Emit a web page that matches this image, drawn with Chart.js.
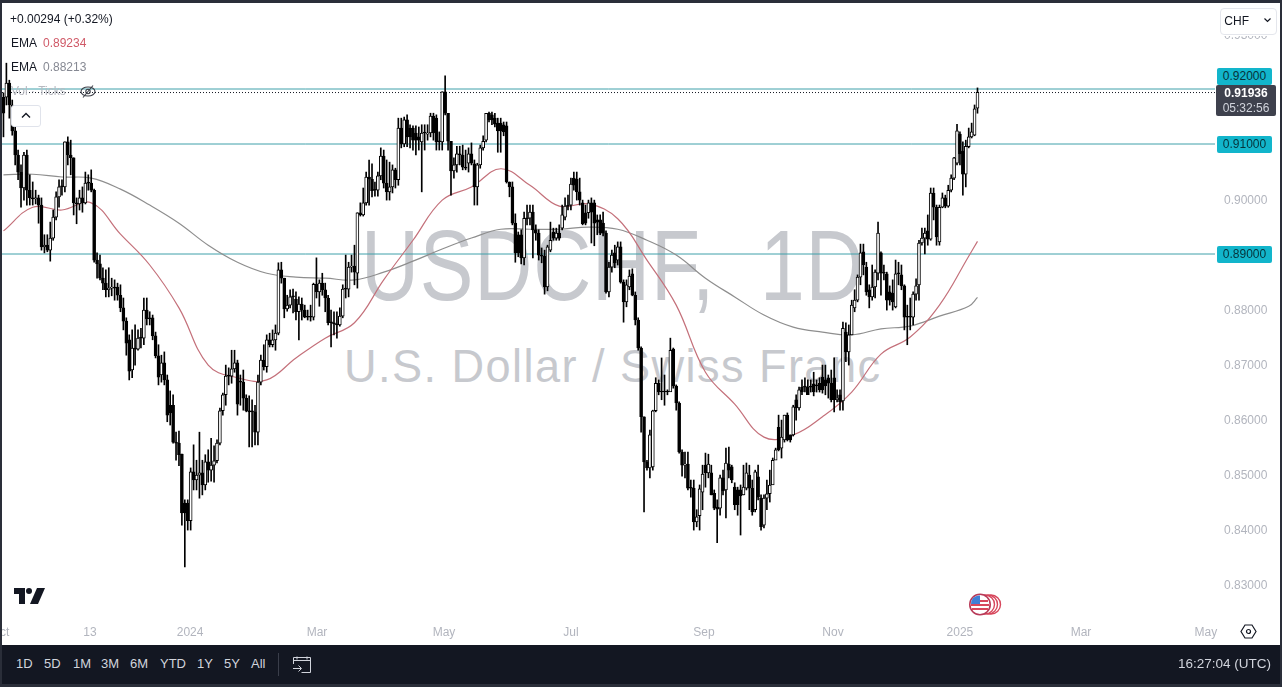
<!DOCTYPE html>
<html>
<head>
<meta charset="utf-8">
<title>USDCHF 1D</title>
<script src="https://cdn.jsdelivr.net/npm/chart.js@4"></script>
<style>
  html, body { margin: 0; padding: 0; width: 1282px; height: 687px; overflow: hidden; background: #2a2e39; font-family: "Liberation Sans", sans-serif; }
  #paper { position: absolute; left: 2px; top: 3px; width: 1278px; height: 642px; background: #fff; }
  #chart { position: absolute; left: 0; top: 0; z-index: 2; }
  .mark { position: absolute; z-index: 1; color: #c7c9ce; white-space: nowrap; transform-origin: left top; }
  .ui { position: absolute; z-index: 3; white-space: nowrap; font-size: 12px; line-height: 16px; color: #131722; }
  .edge { position: absolute; z-index: 3; background: #2a2e39; }
  .tag { position: absolute; z-index: 3; left: 1217px; width: 55px; height: 17px; line-height: 17px; text-align: center; font-size: 12px; background: #12b5cb; color: #06323a; border-radius: 2px; }
  #bar { position: absolute; z-index: 4; left: 2px; top: 645px; width: 1278px; height: 39px; background: #131722; color: #d1d4dc; font-size: 13px; }
  #bar span { position: absolute; top: 11px; line-height: 16px; }
</style>
</head>
<body>
<div id="paper"></div>
<div class="mark" style="left:361px;top:205px;font-size:100px;line-height:120px;letter-spacing:1px;word-spacing:27px;transform:scaleX(0.804);">USDCHF, 1D</div>
<div class="mark" style="left:344px;top:336px;font-size:47px;line-height:60px;letter-spacing:1.5px;transform:scaleX(0.96);">U.S. Dollar / Swiss Franc</div>
<canvas id="chart" width="1282" height="645"></canvas>

<div class="edge" style="left:0;top:0;width:2px;height:687px;"></div>
<div class="edge" style="left:1280px;top:0;width:2px;height:687px;"></div>
<div class="edge" style="left:0;top:0;width:1282px;height:3px;"></div>
<div class="edge" style="left:0;top:684px;width:1282px;height:3px;"></div>

<div class="ui" style="left:10px;top:11px;">+0.00294 (+0.32%)</div>
<div class="ui" style="left:11px;top:35px;">EMA</div><div class="ui" style="left:43px;top:35px;color:#d05a68;">0.89234</div>
<div class="ui" style="left:11px;top:59px;">EMA</div><div class="ui" style="left:43px;top:59px;color:#868993;">0.88213</div>
<div class="ui" style="left:11px;top:83px;color:#b7b9c0;">Vol · Ticks</div>
<svg class="ui" style="left:80px;top:84px;" width="16" height="15" viewBox="0 0 16 15" fill="none" stroke="#3a3d46" stroke-width="1.1"><ellipse cx="8" cy="7.5" rx="7" ry="4.5"/><circle cx="8" cy="7.5" r="2.2"/><path d="M13 1.5 3 13.5"/></svg>
<div class="ui" style="left:11px;top:105px;width:28px;height:20px;border:1px solid #e0e3eb;border-radius:3px;background:#fff;"></div>
<svg class="ui" style="left:20px;top:111px;" width="12" height="9" viewBox="0 0 12 9" fill="none" stroke="#131722" stroke-width="1.4"><path d="M2 6.5 6 2.5 10 6.5"/></svg>

<div class="ui" style="left:1218px;top:30px;width:60px;height:6px;background:#fff;"></div>
<div class="ui" style="left:1220px;top:8px;width:55px;height:25px;border:1px solid #e4e6ec;border-radius:4px;background:#fff;line-height:24px;">&nbsp;CHF</div>
<svg class="ui" style="left:1263px;top:17px;" width="9" height="7" viewBox="0 0 9 7" fill="none" stroke="#131722" stroke-width="1.2"><path d="M1.5 1.5 4.5 4.5 7.5 1.5"/></svg>

<div class="tag" style="top:68px;">0.92000</div>
<div class="tag" style="top:136px;">0.91000</div>
<div class="tag" style="top:246px;">0.89000</div>
<div class="ui" style="left:1216px;top:85px;width:60px;height:31px;background:#3e414d;border-radius:2px;text-align:center;line-height:15px;color:#fff;"><b style="display:block;padding-top:1px;">0.91936</b><span style="color:#d1d4dc;">05:32:56</span></div>

<svg class="ui" style="left:14px;top:588px;" width="31" height="16" viewBox="0 0 31 16" fill="#131722"><path d="M0 0h11v16H5V6H0z"/><circle cx="15" cy="3" r="3"/><path d="M23 0h8l-7 16h-8z"/></svg>

<svg class="ui" style="left:967px;top:593px;" width="36" height="23" viewBox="0 0 36 23">
  <circle cx="24" cy="11.5" r="9.5" fill="#fff" stroke="#d7475c" stroke-width="1.4"/>
  <circle cx="21" cy="11.5" r="9.5" fill="#fff" stroke="#d7475c" stroke-width="1.4"/>
  <circle cx="18" cy="11.5" r="9.5" fill="#fff" stroke="#d7475c" stroke-width="1.4"/>
  <circle cx="13" cy="11.5" r="10.2" fill="#fff" stroke="#b83a58" stroke-width="1.6"/>
  <path d="M5 7h16v2H5zM4 11h18v2H4zM5 15h16v2H5z" fill="#d7475c"/>
  <path d="M6 5a9 9 0 0 1 7-2.5V11H4a9 9 0 0 1 2-6z" fill="#3f7fd6"/>
</svg>

<svg class="ui" style="left:1240px;top:623px;" width="17" height="17" viewBox="0 0 17 17" fill="none" stroke="#131722" stroke-width="1.2"><path d="M5 2h7l4 6.5-4 6.5H5L1 8.5z"/><circle cx="8.5" cy="8.5" r="2"/></svg>

<div id="bar">
  <span style="left:14px;">1D</span><span style="left:42px;">5D</span><span style="left:71px;">1M</span><span style="left:99px;">3M</span><span style="left:128px;">6M</span><span style="left:158px;">YTD</span><span style="left:195px;">1Y</span><span style="left:222px;">5Y</span><span style="left:249px;">All</span>
  <i style="position:absolute;left:276px;top:8px;width:1px;height:23px;background:#3a3e4a;"></i>
  <svg style="position:absolute;left:290px;top:9px;" width="20" height="20" viewBox="0 0 20 20" fill="none" stroke="#d1d4dc" stroke-width="1"><path d="M1 6.5h18M5 2.5v3M15 2.5v3M1.5 10V3.5h17v15h-9M1 14.5h8M6.5 11.5l3 3-3 3"/></svg>
  <span style="left:1176px;font-size:13.5px;">16:27:04 (UTC)</span>
</div>

<script>
// USD/CHF daily candles, oldest first
const opens = [0.9185,0.9185,0.9211,0.9171,0.9124,0.9080,0.9049,0.9020,0.9080,0.9016,
0.9002,0.9000,0.9002,0.8989,0.8913,0.8916,0.8907,0.8929,0.8967,0.9004,
0.9022,0.9022,0.9104,0.9080,0.9075,0.8993,0.8991,0.9002,0.8993,0.9029,
0.9029,0.9016,0.8889,0.8882,0.8856,0.8847,0.8835,0.8838,0.8840,0.8840,
0.8825,0.8802,0.8778,0.8744,0.8689,0.8729,0.8727,0.8747,0.8747,0.8798,
0.8782,0.8784,0.8751,0.8715,0.8680,0.8702,0.8671,0.8625,0.8625,0.8558,
0.8556,0.8536,0.8447,0.8447,0.8415,0.8504,0.8489,0.8498,0.8502,0.8480,
0.8522,0.8507,0.8516,0.8524,0.8556,0.8615,0.8644,0.8678,0.8678,0.8691,
0.8702,0.8667,0.8667,0.8638,0.8615,0.8613,0.8613,0.8576,0.8667,0.8707,
0.8695,0.8744,0.8735,0.8744,0.8756,0.8871,0.8856,0.8800,0.8807,0.8822,
0.8818,0.8795,0.8809,0.8798,0.8785,0.8785,0.8785,0.8845,0.8831,0.8847,
0.8835,0.8820,0.8775,0.8775,0.8773,0.8771,0.8787,0.8836,0.8836,0.8876,
0.8878,0.8865,0.8975,0.8971,0.8993,0.9040,0.9036,0.9016,0.9016,0.9042,
0.9078,0.9029,0.9013,0.9022,0.9053,0.9035,0.9129,0.9100,0.9144,0.9129,
0.9129,0.9120,0.9113,0.9104,0.9120,0.9118,0.9120,0.9151,0.9147,0.9104,
0.9104,0.9195,0.9156,0.9105,0.9051,0.9062,0.9082,0.9080,0.9058,0.9065,
0.9082,0.9064,0.9022,0.9062,0.9093,0.9107,0.9156,0.9153,0.9147,0.9138,
0.9138,0.9135,0.9133,0.9031,0.9022,0.8956,0.8935,0.8935,0.8893,0.8965,
0.8965,0.8976,0.8944,0.8938,0.8896,0.8896,0.8840,0.8907,0.8940,0.8929,
0.8938,0.8947,0.8967,0.8987,0.8989,0.9038,0.9036,0.9013,0.8993,0.8975,
0.8975,0.8993,0.8993,0.8962,0.8962,0.8956,0.8938,0.8831,0.8876,0.8902,
0.8889,0.8913,0.8849,0.8813,0.8840,0.8864,0.8825,0.8780,0.8729,0.8604,
0.8522,0.8511,0.8513,0.8615,0.8665,0.8649,0.8649,0.8649,0.8649,0.8727,
0.8660,0.8629,0.8540,0.8516,0.8518,0.8474,0.8474,0.8413,0.8424,0.8467,
0.8516,0.8502,0.8502,0.8465,0.8440,0.8438,0.8493,0.8471,0.8518,0.8513,
0.8476,0.8471,0.8471,0.8462,0.8474,0.8498,0.8474,0.8435,0.8495,0.8456,
0.8407,0.8456,0.8464,0.8480,0.8525,0.8585,0.8547,0.8562,0.8607,0.8571,
0.8571,0.8635,0.8620,0.8658,0.8658,0.8658,0.8658,0.8664,0.8662,0.8665,
0.8676,0.8671,0.8675,0.8665,0.8675,0.8635,0.8644,0.8633,0.8758,0.8722,
0.8753,0.8802,0.8816,0.8858,0.8904,0.8876,0.8835,0.8822,0.8840,0.8865,
0.8902,0.8865,0.8864,0.8831,0.8829,0.8804,0.8864,0.8862,0.8842,0.8785,
0.8785,0.8785,0.8827,0.8844,0.8920,0.8929,0.8942,0.8927,0.9011,0.8985,
0.8922,0.8985,0.9002,0.8987,0.9016,0.9038,0.9065,0.9118,0.9087,0.9045,
0.9095,0.9113,0.9116,0.9165];
const closes = [0.9156,0.9211,0.9171,0.9124,0.9080,0.9049,0.9020,0.9080,0.9016,0.9002,
0.9000,0.9002,0.8989,0.8913,0.8916,0.8907,0.8929,0.8967,0.9004,0.9022,
0.9022,0.9104,0.9080,0.9075,0.8993,0.8991,0.9002,0.8993,0.9029,0.9029,
0.9016,0.8889,0.8882,0.8856,0.8847,0.8835,0.8838,0.8840,0.8838,0.8825,
0.8802,0.8778,0.8738,0.8687,0.8729,0.8727,0.8747,0.8747,0.8798,0.8782,
0.8782,0.8751,0.8715,0.8676,0.8702,0.8671,0.8607,0.8611,0.8558,0.8556,
0.8535,0.8429,0.8429,0.8415,0.8504,0.8489,0.8498,0.8502,0.8480,0.8522,
0.8507,0.8516,0.8524,0.8556,0.8615,0.8644,0.8678,0.8678,0.8691,0.8702,
0.8627,0.8667,0.8638,0.8615,0.8613,0.8613,0.8576,0.8667,0.8707,0.8695,
0.8744,0.8735,0.8744,0.8756,0.8871,0.8856,0.8800,0.8807,0.8822,0.8822,
0.8795,0.8809,0.8798,0.8785,0.8785,0.8785,0.8845,0.8831,0.8847,0.8835,
0.8820,0.8775,0.8775,0.8773,0.8771,0.8787,0.8836,0.8836,0.8876,0.8878,
0.8867,0.8975,0.8971,0.8993,0.9040,0.9036,0.9015,0.9016,0.9042,0.9078,
0.9029,0.9013,0.9022,0.9053,0.9035,0.9129,0.9100,0.9144,0.9113,0.9113,
0.9107,0.9107,0.9107,0.9120,0.9120,0.9120,0.9151,0.9120,0.9104,0.9104,
0.9195,0.9156,0.9105,0.9051,0.9062,0.9082,0.9080,0.9058,0.9056,0.9082,
0.9065,0.9022,0.9062,0.9093,0.9105,0.9156,0.9144,0.9144,0.9136,0.9124,
0.9124,0.9122,0.9031,0.9022,0.8956,0.8902,0.8902,0.8893,0.8965,0.8964,
0.8976,0.8944,0.8938,0.8898,0.8896,0.8840,0.8913,0.8925,0.8929,0.8938,
0.8929,0.8971,0.8987,0.8987,0.9027,0.9025,0.9013,0.8998,0.8955,0.8956,
0.8993,0.8976,0.8956,0.8958,0.8938,0.8938,0.8831,0.8876,0.8898,0.8884,
0.8913,0.8849,0.8813,0.8844,0.8860,0.8825,0.8780,0.8729,0.8604,0.8522,
0.8511,0.8571,0.8615,0.8665,0.8649,0.8649,0.8649,0.8649,0.8725,0.8660,
0.8629,0.8540,0.8516,0.8518,0.8474,0.8474,0.8413,0.8422,0.8473,0.8500,
0.8502,0.8518,0.8462,0.8438,0.8436,0.8493,0.8469,0.8520,0.8507,0.8489,
0.8444,0.8444,0.8460,0.8476,0.8502,0.8474,0.8431,0.8504,0.8458,0.8404,
0.8456,0.8464,0.8480,0.8525,0.8544,0.8544,0.8567,0.8607,0.8562,0.8562,
0.8622,0.8620,0.8653,0.8649,0.8658,0.8644,0.8658,0.8649,0.8660,0.8653,
0.8653,0.8660,0.8665,0.8635,0.8635,0.8638,0.8631,0.8765,0.8722,0.8753,
0.8807,0.8816,0.8858,0.8902,0.8880,0.8831,0.8822,0.8840,0.8867,0.8938,
0.8865,0.8865,0.8816,0.8816,0.8813,0.8864,0.8864,0.8842,0.8785,0.8785,
0.8785,0.8827,0.8842,0.8920,0.8929,0.8938,0.8927,0.9011,0.8985,0.8931,
0.8985,0.9002,0.8987,0.9016,0.9038,0.9075,0.9124,0.9082,0.9045,0.9096,
0.9113,0.9122,0.9164,0.9194];
const highs = [0.9193,0.9247,0.9216,0.9180,0.9135,0.9089,0.9062,0.9085,0.9089,0.9044,
0.9031,0.9016,0.9007,0.9002,0.8935,0.8935,0.8958,0.8980,0.9013,0.9035,
0.9035,0.9104,0.9113,0.9107,0.9075,0.9002,0.9016,0.9022,0.9049,0.9044,
0.9053,0.9018,0.8902,0.8898,0.8875,0.8871,0.8875,0.8856,0.8853,0.8847,
0.8844,0.8820,0.8784,0.8753,0.8762,0.8771,0.8762,0.8765,0.8820,0.8820,
0.8795,0.8789,0.8758,0.8735,0.8716,0.8722,0.8680,0.8651,0.8644,0.8576,
0.8578,0.8536,0.8453,0.8453,0.8511,0.8553,0.8525,0.8576,0.8525,0.8535,
0.8544,0.8565,0.8551,0.8562,0.8620,0.8647,0.8698,0.8693,0.8725,0.8725,
0.8707,0.8680,0.8689,0.8644,0.8642,0.8635,0.8625,0.8680,0.8716,0.8735,
0.8753,0.8756,0.8762,0.8771,0.8884,0.8885,0.8856,0.8825,0.8835,0.8836,
0.8831,0.8822,0.8820,0.8807,0.8798,0.8807,0.8847,0.8893,0.8853,0.8865,
0.8847,0.8825,0.8798,0.8795,0.8795,0.8802,0.8844,0.8898,0.8885,0.8898,
0.8916,0.8975,0.8993,0.9020,0.9049,0.9071,0.9064,0.9031,0.9049,0.9093,
0.9089,0.9071,0.9067,0.9062,0.9056,0.9147,0.9147,0.9149,0.9153,0.9135,
0.9133,0.9133,0.9131,0.9135,0.9135,0.9135,0.9156,0.9156,0.9153,0.9122,
0.9195,0.9224,0.9156,0.9105,0.9075,0.9096,0.9096,0.9098,0.9089,0.9093,
0.9102,0.9071,0.9065,0.9098,0.9115,0.9156,0.9158,0.9158,0.9156,0.9147,
0.9147,0.9140,0.9140,0.9031,0.9031,0.8973,0.8940,0.8944,0.8976,0.8989,
0.8989,0.8989,0.8953,0.8944,0.8911,0.8907,0.8916,0.8958,0.8947,0.8947,
0.8953,0.8989,0.9002,0.9007,0.9038,0.9049,0.9049,0.9038,0.8998,0.8989,
0.8998,0.9002,0.8998,0.8971,0.8971,0.8976,0.8942,0.8885,0.8907,0.8916,
0.8922,0.8922,0.8853,0.8853,0.8871,0.8873,0.8831,0.8784,0.8731,0.8604,
0.8525,0.8580,0.8616,0.8675,0.8671,0.8711,0.8680,0.8653,0.8747,0.8729,
0.8662,0.8631,0.8544,0.8540,0.8540,0.8489,0.8489,0.8435,0.8480,0.8516,
0.8538,0.8536,0.8516,0.8471,0.8453,0.8498,0.8507,0.8547,0.8549,0.8516,
0.8484,0.8476,0.8480,0.8516,0.8520,0.8516,0.8489,0.8507,0.8516,0.8462,
0.8462,0.8489,0.8507,0.8529,0.8547,0.8607,0.8598,0.8607,0.8611,0.8571,
0.8625,0.8644,0.8658,0.8671,0.8675,0.8671,0.8671,0.8685,0.8671,0.8675,
0.8698,0.8698,0.8680,0.8689,0.8711,0.8653,0.8653,0.8776,0.8775,0.8771,
0.8816,0.8835,0.8862,0.8918,0.8918,0.8885,0.8844,0.8880,0.8871,0.8958,
0.8904,0.8880,0.8867,0.8842,0.8853,0.8889,0.8885,0.8880,0.8844,0.8807,
0.8820,0.8831,0.8855,0.8925,0.8947,0.8947,0.8971,0.9020,0.9020,0.8989,
0.8989,0.9011,0.9007,0.9025,0.9044,0.9076,0.9136,0.9122,0.9104,0.9107,
0.9129,0.9138,0.9171,0.9202];
const lows = [0.9113,0.9171,0.9147,0.9116,0.9062,0.9035,0.8985,0.8998,0.8989,0.8989,
0.8989,0.8991,0.8956,0.8907,0.8902,0.8904,0.8887,0.8925,0.8962,0.8985,
0.9007,0.9013,0.9062,0.9044,0.8971,0.8955,0.8980,0.8976,0.8991,0.9016,
0.9013,0.8885,0.8856,0.8853,0.8835,0.8822,0.8822,0.8824,0.8816,0.8816,
0.8795,0.8762,0.8716,0.8671,0.8675,0.8698,0.8725,0.8729,0.8735,0.8771,
0.8771,0.8744,0.8711,0.8662,0.8667,0.8662,0.8595,0.8589,0.8556,0.8525,
0.8515,0.8407,0.8331,0.8398,0.8398,0.8471,0.8471,0.8456,0.8462,0.8471,
0.8485,0.8487,0.8485,0.8520,0.8553,0.8607,0.8625,0.8662,0.8665,0.8685,
0.8607,0.8625,0.8616,0.8613,0.8549,0.8549,0.8553,0.8553,0.8662,0.8689,
0.8685,0.8731,0.8731,0.8725,0.8753,0.8847,0.8784,0.8796,0.8802,0.8793,
0.8780,0.8744,0.8780,0.8784,0.8780,0.8778,0.8780,0.8820,0.8805,0.8825,
0.8795,0.8771,0.8731,0.8753,0.8747,0.8769,0.8784,0.8820,0.8822,0.8867,
0.8844,0.8838,0.8969,0.8969,0.8989,0.8989,0.9004,0.9005,0.9005,0.9035,
0.9020,0.8998,0.8998,0.9011,0.9020,0.9025,0.9093,0.9095,0.9095,0.9093,
0.9089,0.9080,0.9089,0.9013,0.9089,0.9107,0.9113,0.9107,0.9089,0.9089,
0.9089,0.9153,0.9089,0.9007,0.9038,0.9049,0.9062,0.9053,0.9053,0.9049,
0.9062,0.8989,0.8989,0.9056,0.9089,0.9104,0.9140,0.9135,0.9131,0.9085,
0.9085,0.9115,0.9029,0.9004,0.8953,0.8885,0.8895,0.8882,0.8880,0.8953,
0.8953,0.8893,0.8925,0.8889,0.8884,0.8827,0.8833,0.8904,0.8925,0.8925,
0.8925,0.8944,0.8962,0.8980,0.8980,0.9016,0.8998,0.8989,0.8953,0.8953,
0.8965,0.8920,0.8915,0.8935,0.8935,0.8933,0.8829,0.8822,0.8867,0.8875,
0.8880,0.8847,0.8776,0.8804,0.8835,0.8824,0.8771,0.8725,0.8576,0.8431,
0.8507,0.8493,0.8507,0.8613,0.8644,0.8635,0.8625,0.8644,0.8651,0.8656,
0.8616,0.8538,0.8496,0.8493,0.8471,0.8458,0.8398,0.8404,0.8398,0.8435,
0.8476,0.8493,0.8462,0.8435,0.8375,0.8425,0.8462,0.8420,0.8493,0.8484,
0.8435,0.8425,0.8389,0.8462,0.8471,0.8435,0.8425,0.8431,0.8453,0.8398,
0.8402,0.8435,0.8449,0.8489,0.8542,0.8542,0.8529,0.8558,0.8560,0.8558,
0.8569,0.8598,0.8616,0.8644,0.8649,0.8644,0.8649,0.8642,0.8649,0.8649,
0.8647,0.8644,0.8638,0.8631,0.8613,0.8631,0.8616,0.8616,0.8704,0.8698,
0.8753,0.8795,0.8813,0.8844,0.8862,0.8825,0.8802,0.8816,0.8820,0.8853,
0.8825,0.8853,0.8798,0.8807,0.8798,0.8802,0.8844,0.8835,0.8762,0.8735,
0.8762,0.8771,0.8816,0.8816,0.8916,0.8900,0.8916,0.8925,0.8962,0.8916,
0.8916,0.8984,0.8984,0.8985,0.9013,0.9035,0.9062,0.9062,0.9007,0.9022,
0.9093,0.9111,0.9115,0.9156];

// the two moving averages, read at every tenth candle
const emaIdx = [0,10,20,30,40,50,60,70,80,90,100,110,120,130,140,150,160,170,180,190,200,210,220,230,240,250,260,270,280,290,300,310,320,330,333];
const emaFast = [0.8942,0.8985,0.8980,0.8993,0.8936,0.8880,0.8802,0.8698,0.8675,0.8671,0.8711,0.8747,0.8775,0.8853,0.8925,0.8998,0.9022,0.9055,0.9025,0.8987,0.8991,0.8964,0.8889,0.8807,0.8685,0.8627,0.8567,0.8571,0.8604,0.8649,0.8718,0.8749,0.8807,0.8896,0.8923];
const emaSlow = [0.9044,0.9045,0.9040,0.9038,0.9018,0.8989,0.8956,0.8916,0.8885,0.8865,0.8858,0.8856,0.8853,0.8867,0.8887,0.8909,0.8929,0.8945,0.8945,0.8945,0.8949,0.8945,0.8925,0.8898,0.8856,0.8822,0.8789,0.8767,0.8758,0.8753,0.8764,0.8769,0.8787,0.8805,0.8821];

const levels = [0.92, 0.91, 0.89];
const lastPrice = 0.91936;
const priceTicks = [0.83,0.84,0.85,0.86,0.87,0.88,0.89,0.90,0.91,0.92,0.93];
const timeTickIdx = [-1.2,29.6,63.8,107.2,150.6,194,239.5,283.6,327,368.4,411.1];
const timeTickLabels = ["Oct","13","2024","Mar","May","Jul","Sep","Nov","2025","Mar","May"];

const xMin = -0.5, xMax = 414.2;
const candles = opens.map((o, i) => ({ x: i, y: [o, closes[i]] }));
const wicks = highs.map((h, i) => ({ x: i, y: [lows[i], h] }));
const hLine = (v) => [{ x: xMin, y: v }, { x: xMax, y: v }];

new Chart(document.getElementById("chart"), {
  type: "bar",
  data: {
    datasets: [
      // bodies sit over the wicks so up candles stay hollow
      {
        data: candles,
        order: 1,
        grouped: false,
        barThickness: 3,
        minBarLength: 1,
        borderWidth: 1,
        borderSkipped: false,
        borderColor: "#000",
        backgroundColor: candles.map((c) => (c.y[1] > c.y[0] ? "#fff" : "#000")),
      },
      { data: wicks, order: 2, grouped: false, barThickness: 1, backgroundColor: "#000" },
      { type: "line", data: emaIdx.map((x, i) => ({ x, y: emaFast[i] })), order: 3, borderColor: "#c4707a", borderWidth: 1.2, pointRadius: 0, tension: 0.4 },
      { type: "line", data: emaIdx.map((x, i) => ({ x, y: emaSlow[i] })), order: 4, borderColor: "#8e8e8e", borderWidth: 1.2, pointRadius: 0, tension: 0.4 },
      ...levels.map((v) => ({ type: "line", data: hLine(v), order: 5, borderColor: "#3ea0aa", borderWidth: 1, pointRadius: 0 })),
      { type: "line", data: hLine(lastPrice), order: 6, borderColor: "#131722", borderWidth: 1, borderDash: [1, 2], pointRadius: 0 },
    ],
  },
  options: {
    responsive: false,
    animation: false,
    devicePixelRatio: 1,
    layout: { padding: { left: 2, top: 3, right: 0, bottom: 0 } },
    plugins: { legend: { display: false }, tooltip: { enabled: false } },
    scales: {
      x: {
        type: "linear",
        offset: false,
        min: xMin,
        max: xMax,
        grid: { display: false, drawTicks: false },
        border: { display: false },
        afterBuildTicks: (s) => { s.ticks = timeTickIdx.map((value) => ({ value })); },
        afterFit: (s) => { s.height = 25; s.paddingLeft = 0; s.paddingRight = 0; },
        ticks: {
          autoSkip: false,
          maxRotation: 0,
          padding: 5,
          color: "#b2b5be",
          font: { family: "Liberation Sans", size: 12 },
          callback: (v, i) => timeTickLabels[i],
        },
      },
      y: {
        position: "right",
        min: 0.82345,
        max: 0.93564,
        grid: { display: false, drawTicks: false },
        border: { display: false },
        afterBuildTicks: (s) => { s.ticks = priceTicks.map((value) => ({ value })); },
        afterFit: (s) => { s.width = 67; s.paddingTop = 0; s.paddingBottom = 0; },
        ticks: {
          autoSkip: false,
          padding: 9,
          labelOffset: 2,
          color: "#b2b5be",
          font: { family: "Liberation Sans", size: 12 },
          callback: (v) => v.toFixed(5),
        },
      },
    },
  },
});
</script>
</body>
</html>
